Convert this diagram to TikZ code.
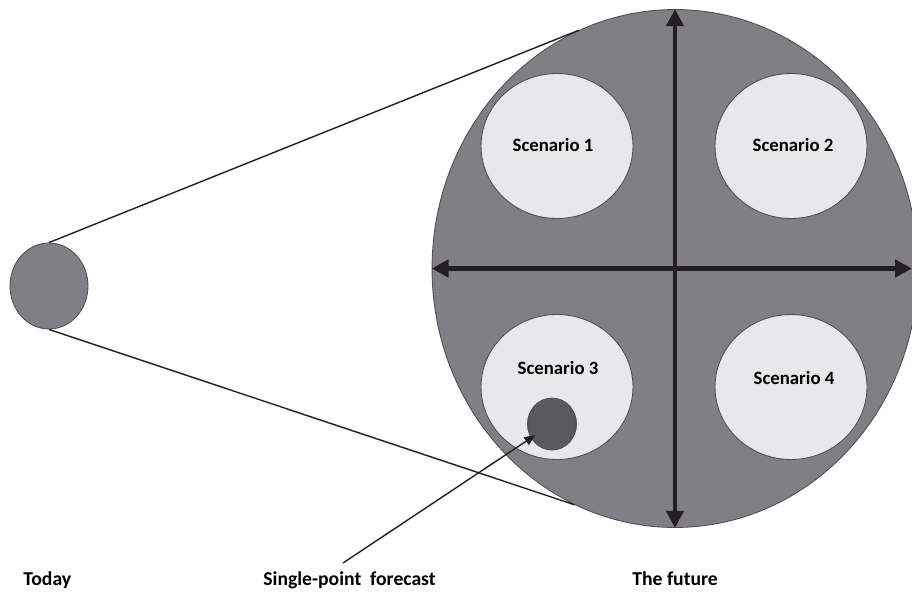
\documentclass[tikz,border=0pt]{standalone}
\usepackage{fontspec}
\setmainfont{Carlito}
\usetikzlibrary{shapes.geometric,arrows.meta}
\definecolor{discgray}{HTML}{808084}
\definecolor{discline}{HTML}{505052}
\definecolor{scenfill}{HTML}{E8E8EA}
\definecolor{dotgray}{HTML}{5A5A5C}
\definecolor{axisblack}{HTML}{231F20}

\begin{document}
\begin{tikzpicture}[x=0.02cm,y=-0.02cm,
  font=\bfseries\fontsize{10.7}{12}\selectfont,
  disc/.style={ellipse,draw=discline,line width=0.5pt,inner sep=0pt},
  scen/.style={disc,fill=scenfill,minimum width=3.04cm,minimum height=2.9cm},
  axisarrow/.style={draw=axisblack,line width=2.8pt,
    {Triangle[length=0.34cm,width=0.34cm]}-{Triangle[length=0.34cm,width=0.34cm]}},
  thinline/.style={draw=axisblack,line width=0.8pt},
  caption/.style={anchor=base west,inner sep=0pt,font=\bfseries\fontsize{11.2}{13}\selectfont}]
  \useasboundingbox (0,0) rectangle (912,592);
  \clip (0,0) rectangle (912,592);

  % today and the cone towards the future
  \node[disc,fill=discgray,minimum width=1.56cm,minimum height=1.72cm] (today) at (49,286) {};
  \node[disc,fill=discgray,minimum width=9.72cm,minimum height=10.36cm] (future) at (675,268.5) {};
  \draw[thinline] (today.north) -- (future.112.7);
  \draw[thinline] (today.south) -- (future.247.6);

  % the four scenarios
  \node[scen] (s1) at (557,146) {};
  \node[scen] (s2) at (791,146) {};
  \node[scen] (s3) at (557,387) {};
  \node[scen] (s4) at (791,387) {};
  \node at (553,145) {Scenario 1};
  \node at (793,145) {Scenario 2};
  \node at (558,368) {Scenario 3};
  \node at (794,378) {Scenario 4};

  % axes
  \coordinate (axisend) at (912,268.5);
  \draw[axisarrow] (future.north) -- (future.south);
  \draw[axisarrow] (future.west) -- (axisend);

  % single-point forecast
  \node[disc,fill=dotgray,minimum width=0.98cm,minimum height=1.04cm] (dot) at (552,424) {};
  \coordinate (fcfoot) at (343,563);
  \draw[thinline,-{Triangle[length=0.22cm,width=0.18cm]},shorten >=0.4cm] (fcfoot) -- (dot.center);

  % captions
  \node[caption] (todaylbl) at (23,585) {Today};
  \node[caption] (fclbl) at (263,585) {Single-point\hspace{0.45em}forecast};
  \node[caption] (futurelbl) at (632,585) {The future};
\end{tikzpicture}
\end{document}
